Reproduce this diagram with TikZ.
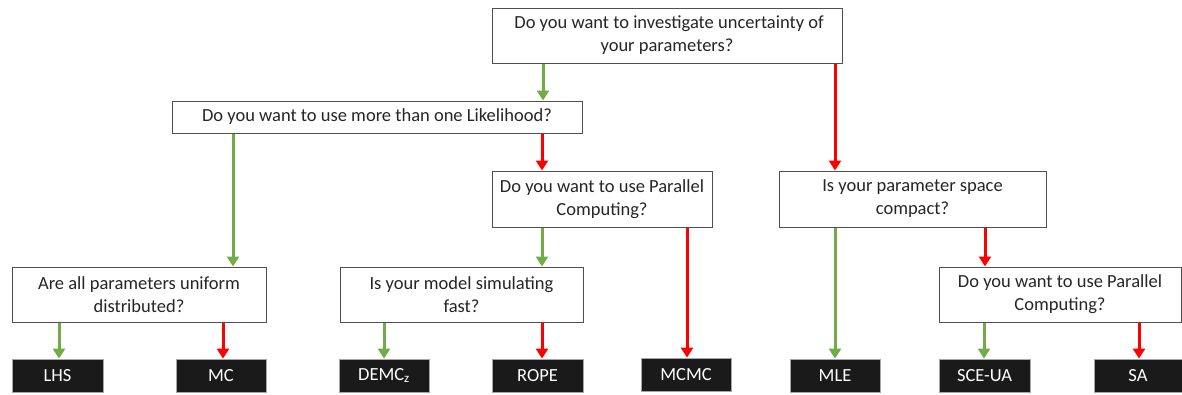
\documentclass[tikz,border=0pt]{standalone}
\usepackage{fontspec}
\setmainfont{Carlito}
\usetikzlibrary{arrows.meta}
\definecolor{ygreen}{HTML}{70AD47}
\definecolor{ired}{HTML}{FF0000}
\definecolor{leafbg}{HTML}{1A1A1A}
\definecolor{boxline}{HTML}{505050}
\tikzset{
  qbox/.style={draw=boxline, line width=1pt, fill=white, align=center, inner sep=0pt,
    font=\fontsize{18.5}{23}\selectfont, text=black!85},
  leaf/.style={draw=gray!70, line width=0.8pt, fill=leafbg, text=white, inner sep=0pt,
    minimum width=90pt, minimum height=33pt, font=\fontsize{18.5}{22}\selectfont},
  yes/.style={draw=ygreen, line width=3pt, -{Triangle[length=10pt,width=12pt]}},
  no/.style={draw=ired, line width=3pt, -{Triangle[length=10pt,width=12pt]}}
}
\begin{document}
\begin{tikzpicture}[x=1pt,y=-1pt]
\useasboundingbox (0,0) rectangle (1182,394);
% question boxes
\node[qbox, minimum width=350pt, minimum height=55pt] (q1) at (667,35.5) {\ Do you want to investigate uncertainty of\\your parameters?};
\node[qbox, minimum width=410pt, minimum height=32pt] (q2) at (377,117) {Do you want to use more than one Likelihood?};
\node[qbox, minimum width=220pt, minimum height=56pt] (q3) at (602,199) {Do you want to use Parallel\\Computing?};
\node[qbox, minimum width=267pt, minimum height=56pt] (q4) at (912.5,199) {Is your parameter space\\compact?};
\node[qbox, minimum width=254pt, minimum height=55pt] (q5) at (139,294.5) {Are all parameters uniform\\distributed?};
\node[qbox, minimum width=243pt, minimum height=55pt] (q6) at (461.5,294.5) {Is your model simulating\\fast?};
\node[qbox, minimum width=242pt, minimum height=55pt] (q7) at (1060,294.5) {Do you want to use Parallel\\Computing?};
% leaves
\node[leaf, minimum width=91pt] (lhs) at (57.5,375.5) {LHS};
\node[leaf] (mc) at (221,375.5) {MC};
\node[leaf] (demc) at (384,375.5) {DEMC\textsubscript{z}};
\node[leaf, minimum width=91pt] (rope) at (537.5,375.5) {ROPE};
\node[leaf] (mcmc) at (686,374.5) {MCMC};
\node[leaf] (mle) at (835,375.5) {MLE};
\node[leaf, minimum width=91pt] (sce) at (984.5,375.5) {SCE-UA};
\node[leaf, minimum width=88pt] (sa) at (1138,375.5) {SA};
% connectors
\draw[yes] (q1.south -| 543,0) -- (q2.north -| 543,0);
\draw[no]  (q1.south -| 835,0) -- (q4.north -| 835,0);
\draw[yes] (q2.south -| 233,0) -- (q5.north -| 233,0);
\draw[no]  (q2.south -| 542,0) -- (q3.north -| 542,0);
\draw[yes] (q3.south -| 542,0) -- (q6.north -| 542,0);
\draw[no]  (q3.south -| 687,0) -- (mcmc.north -| 687,0);
\draw[yes] (q4.south -| 835,0) -- (mle.north);
\draw[no]  (q4.south -| 985,0) -- (q7.north -| 985,0);
\draw[yes] (q5.south -| 59,0) -- (lhs.north -| 59,0);
\draw[no]  (q5.south -| 223,0) -- (mc.north -| 223,0);
\draw[yes] (q6.south -| 384,0) -- (demc.north);
\draw[no]  (q6.south -| 542,0) -- (rope.north -| 542,0);
\draw[yes] (q7.south -| 984,0) -- (sce.north -| 984,0);
\draw[no]  (q7.south -| 1139,0) -- (sa.north -| 1139,0);
\end{tikzpicture}
\end{document}
